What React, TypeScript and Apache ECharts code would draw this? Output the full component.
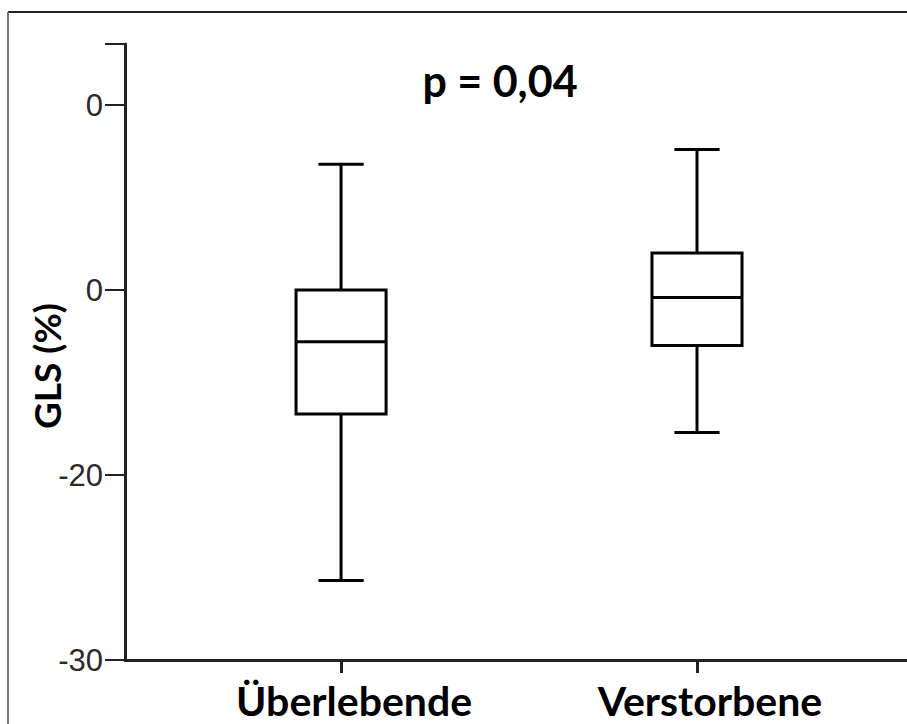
import React, { useEffect, useRef } from "react";
import * as echarts from "echarts";

const categories = ["Überlebende", "Verstorbene"];
const categoryPositions = [1, 2];
// [min, Q1, median, Q3, max]
const boxValues = [
  [-25.7, -16.7, -12.8, -10.0, -3.2],
  [-17.7, -13.0, -10.4, -8.0, -2.4],
];
const yTickValues = [-30, -20, -10, 0];
const yTickLabels = ["-30", "-20", "0", "0"];
const titleText = "p = 0,04";
const yAxisTitle = "GLS (%)";

export default function App() {
  const ref = useRef<HTMLDivElement>(null);
  useEffect(() => {
    document.body.style.margin = "0";
    const chart = echarts.init(ref.current!, null, { renderer: "svg" });
    const data = categoryPositions.map((x, i) => [x, ...boxValues[i]]);
    chart.setOption({
      animation: false,
      backgroundColor: "#ffffff",
      grid: { left: 125, right: 0, top: 44, bottom: 64 },
      xAxis: {
        type: "value",
        min: 0.393,
        max: 2.59,
        splitLine: { show: false },
        axisLine: { show: true, onZero: false, lineStyle: { color: "#222", width: 3 } },
        axisTick: {
          show: true,
          customValues: categoryPositions,
          length: 13,
          lineStyle: { color: "#222", width: 3 },
        },
        axisLabel: {
          customValues: categoryPositions,
          formatter: (v: number) => categories[categoryPositions.indexOf(Math.round(v))] ?? "",
          fontFamily: "Lato",
          fontWeight: "bold",
          fontSize: 41,
          color: "#000",
          margin: 20,
          padding: [0, 0, 0, 26],
        },
      },
      yAxis: {
        type: "value",
        min: -30,
        max: 3.3,
        interval: 10,
        splitLine: { show: false },
        axisLine: { show: true, onZero: false, lineStyle: { color: "#222", width: 3 } },
        axisTick: { show: true, length: 20, lineStyle: { color: "#222", width: 2 } },
        axisLabel: {
          formatter: (v: number) => {
            const i = yTickValues.indexOf(Math.round(v));
            return i >= 0 ? yTickLabels[i] : "";
          },
          fontFamily: "Liberation Sans",
          fontSize: 31,
          color: "#2a2a2a",
          margin: 22,
        },
      },
      graphic: [
        { type: "line", shape: { x1: 8, y1: 12, x2: 907, y2: 12 }, style: { stroke: "#222", lineWidth: 2 } },
        { type: "line", shape: { x1: 8, y1: 12, x2: 8, y2: 724 }, style: { stroke: "#777", lineWidth: 2 } },
        {
          type: "text",
          x: 500,
          y: 80,
          style: {
            text: titleText,
            fontFamily: "Lato",
            fontWeight: "bold",
            fontSize: 43,
            fill: "#000",
            align: "center",
            verticalAlign: "middle",
          },
        },
        {
          type: "text",
          x: 46,
          y: 366,
          rotation: Math.PI / 2,
          style: {
            text: yAxisTitle,
            fontFamily: "Lato",
            fontWeight: "bold",
            fontSize: 37,
            fill: "#000",
            align: "center",
            verticalAlign: "middle",
          },
        },
      ],
      series: [
        {
          type: "custom",
          data,
          encode: { x: 0, y: [1, 2, 3, 4, 5] },
          renderItem: (params: any, api: any) => {
            const x = api.value(0);
            const pMin = api.coord([x, api.value(1)]);
            const pQ1 = api.coord([x, api.value(2)]);
            const pMed = api.coord([x, api.value(3)]);
            const pQ3 = api.coord([x, api.value(4)]);
            const pMax = api.coord([x, api.value(5)]);
            const boxW = api.size([0.253, 0])[0];
            const capW = api.size([0.127, 0])[0];
            const cx = pMed[0];
            const ls = { stroke: "#000", lineWidth: 3, fill: "none" };
            return {
              type: "group",
              children: [
                { type: "line", shape: { x1: cx, y1: pMax[1], x2: cx, y2: pQ3[1] }, style: ls },
                { type: "line", shape: { x1: cx, y1: pQ1[1], x2: cx, y2: pMin[1] }, style: ls },
                { type: "line", shape: { x1: cx - capW / 2, y1: pMax[1], x2: cx + capW / 2, y2: pMax[1] }, style: ls },
                { type: "line", shape: { x1: cx - capW / 2, y1: pMin[1], x2: cx + capW / 2, y2: pMin[1] }, style: ls },
                {
                  type: "rect",
                  shape: { x: cx - boxW / 2, y: pQ3[1], width: boxW, height: pQ1[1] - pQ3[1] },
                  style: { stroke: "#000", lineWidth: 3, fill: "#fff" },
                },
                { type: "line", shape: { x1: cx - boxW / 2, y1: pMed[1], x2: cx + boxW / 2, y2: pMed[1] }, style: ls },
              ],
            };
          },
        },
      ],
    });
    return () => chart.dispose();
  }, []);
  return <div ref={ref} style={{ width: 907, height: 724 }} />;
}
